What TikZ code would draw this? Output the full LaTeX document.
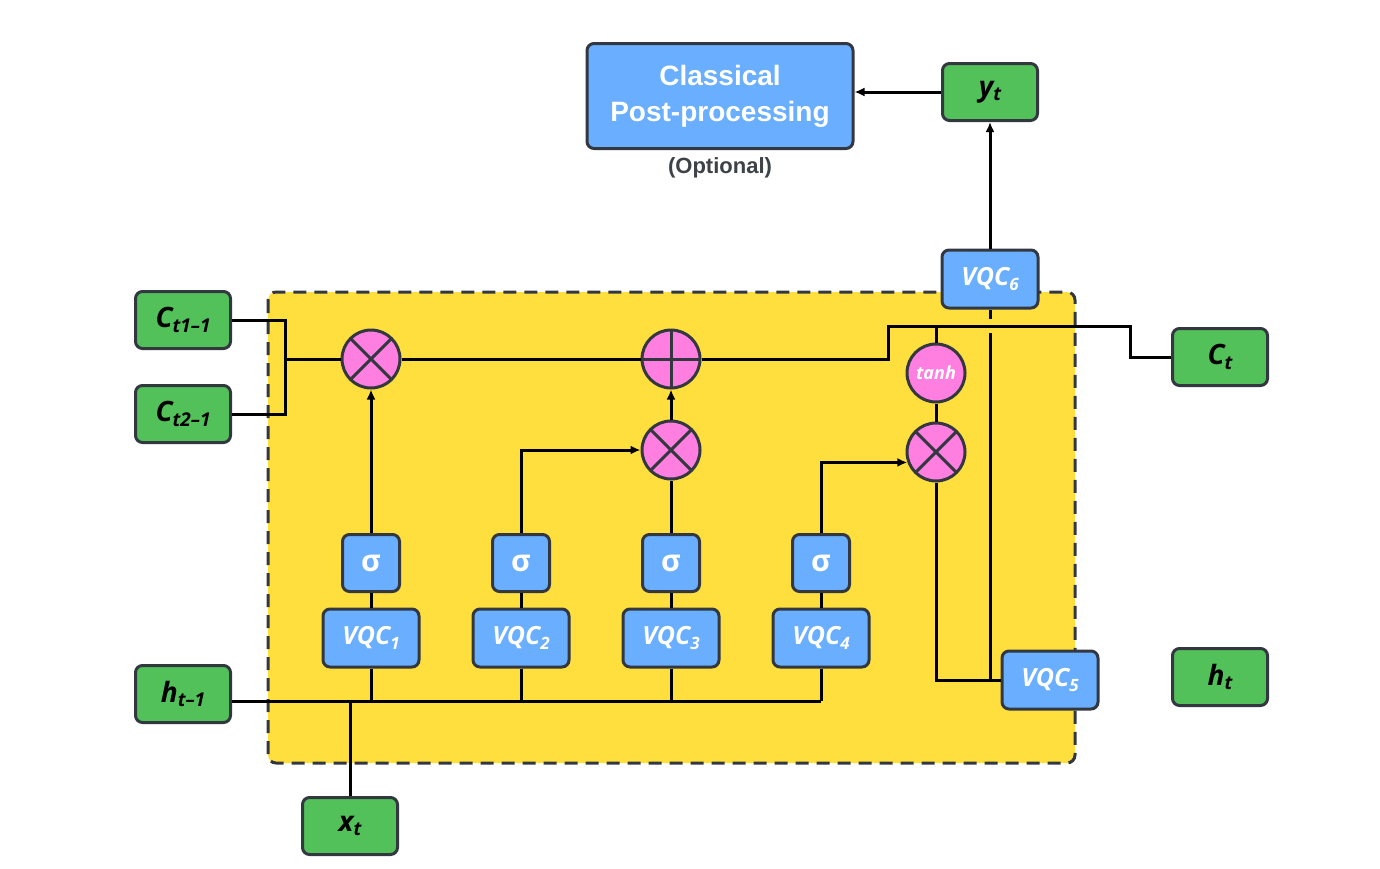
\documentclass[tikz,border=0pt]{standalone}
\usepackage{fontspec}
\usetikzlibrary{arrows.meta}
\newfontfamily\osans{Open Sans}
\newfontfamily\arialb{Liberation Sans}
\definecolor{gfill}{HTML}{52C15A}
\definecolor{bfill}{HTML}{69AEFF}
\definecolor{yfill}{HTML}{FFDF3D}
\definecolor{pfill}{HTML}{FF7FE0}
\definecolor{edge}{HTML}{333840}
\definecolor{optgray}{HTML}{3D4148}
\newcommand{\glab}[2]{#1\raisebox{-0.3ex}{\fontsize{19}{19}\selectfont #2}}
\newcommand{\vlab}[1]{VQC\raisebox{-0.3ex}{\fontsize{17}{17}\selectfont #1}}
\begin{document}
\begin{tikzpicture}[x=1pt,y=-1pt,
  box/.style={draw=edge, line width=3pt, rounded corners=7pt, inner sep=0pt},
  gbox/.style={box, fill=gfill, minimum width=95pt, minimum height=57pt,
    font=\osans\bfseries\itshape\fontsize{28}{28}\selectfont},
  bbox/.style={box, fill=bfill, text=white,
    font=\osans\bfseries\itshape\fontsize{25}{25}\selectfont},
  vqc/.style={bbox, minimum width=96pt, minimum height=58pt},
  sig/.style={bbox, minimum width=57pt, minimum height=57pt,
    font=\osans\bfseries\fontsize{30}{30}\selectfont},
  op/.style={circle, draw=edge, line width=3pt, fill=pfill, minimum size=58pt, inner sep=0pt},
  mul/.style={op, path picture={
    \draw[edge, line width=3pt] (path picture bounding box.north west) -- (path picture bounding box.south east)
      (path picture bounding box.north east) -- (path picture bounding box.south west);}},
  add/.style={op, path picture={
    \draw[edge, line width=3pt] (path picture bounding box.north) -- (path picture bounding box.south)
      (path picture bounding box.west) -- (path picture bounding box.east);}},
  conn/.style={line width=3pt, black},
  arr/.style={conn, -{Latex[length=10pt,width=9pt]}}
]
\useasboundingbox (0,0) rectangle (1380,868);
% cell
\draw[fill=yfill, draw=edge, line width=3pt, dash pattern=on 13pt off 8pt, rounded corners=8pt]
  (268,292) rectangle (1075,763);

% outer green nodes
\node[gbox] (c1) at (183,320) {\glab{C}{t1–1}};
\node[gbox] (c2) at (183,414) {\glab{C}{t2–1}};
\node[gbox] (ht1) at (183,694) {\glab{h}{t–1}};
\node[gbox] (xt) at (350,826) {\glab{x}{t}};
\node[gbox] (ct) at (1220,357) {\glab{C}{t}};
\node[gbox] (ht) at (1220,677) {\glab{h}{t}};
\node[gbox] (yt) at (990,92) {\glab{y}{t}};

% post-processing
\node[box, fill=bfill, text=white, minimum width=266pt, minimum height=105pt, align=center,
  font=\arialb\bfseries\fontsize{28}{36}\selectfont] (post) at (720,96) {Classical\\Post-processing};
\node[text=optgray, font=\arialb\bfseries\fontsize{22}{22}\selectfont] (opt) at (720,168) {(Optional)};

% VQCs and sigmas
\node[vqc] (q1) at (371,638) {\vlab{1}};
\node[vqc] (q2) at (521,638) {\vlab{2}};
\node[vqc] (q3) at (671,638) {\vlab{3}};
\node[vqc] (q4) at (821,638) {\vlab{4}};
\node[vqc] (q5) at (1050,680) {\vlab{5}};
\node[vqc] (q6) at (990,279) {\vlab{6}};
\node[sig] (s1) at (371,563) {σ};
\node[sig] (s2) at (521,563) {σ};
\node[sig] (s3) at (671,563) {σ};
\node[sig] (s4) at (821,563) {σ};

% operators
\node[mul] (m1) at (371,359) {};
\node[add] (pl) at (671,359) {};
\node[mul] (m2) at (671,450) {};
\node[op, text=white, font=\osans\bfseries\itshape\fontsize{18}{18}\selectfont] (th) at (936,373) {tanh};
\node[mul] (m3) at (936,452) {};

% coordinates
\coordinate (jc) at (285,359);
\coordinate (k1) at (888,326);
\coordinate (k2) at (1130,326);
\coordinate (kt) at (936,326);
\coordinate (g1) at (990,319);
\coordinate (g2) at (990,333);
\coordinate (vb) at (990,680);
\coordinate (busR) at (821,701);

% cell state
\draw[conn] (c1.east) -| (jc) |- (c2.east);
\draw[conn] (jc) -- (m1.west);
\draw[conn] (m1.east) -- (pl.west);
\draw[conn] (pl.east) -| (k1) -- (k2) |- (ct.west);
\draw[conn] (kt) -- (th.north);
\draw[conn] (th.south) -- (m3.north);

% gates
\foreach \i in {1,2,3,4} \draw[conn] (q\i.north) -- (s\i.south);
\draw[arr] (s1.north) -- (m1.south);
\draw[arr] (s2.north) |- (m2.west);
\draw[conn] (s3.north) -- (m2.south);
\draw[arr] (m2.north) -- (pl.south);
\draw[arr] (s4.north) |- (m3.200);

% output path
\draw[conn] (m3.south) |- (q5.west);
\draw[conn] (vb) -- (g2);
\draw[conn] (g1) -- (q6.south);
\draw[arr] (q6.north) -- (yt.south);
\draw[arr] (yt.west) -- (post.east |- yt.west);

% input bus
\draw[conn] ([yshift=-7pt]ht1.east) -- (busR);
\foreach \i in {1,2,3,4} \draw[conn] (q\i.south) -- (q\i.south |- busR);
\draw[conn] (xt.north) -- (xt.north |- busR);
\end{tikzpicture}
\end{document}
